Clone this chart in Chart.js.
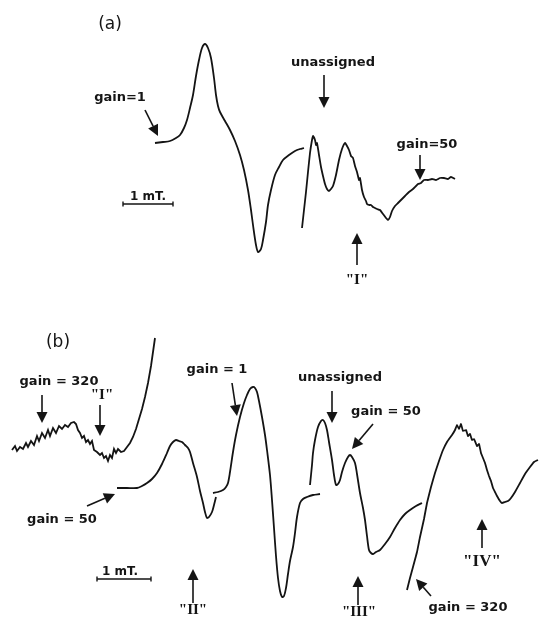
<!DOCTYPE html>
<html>
<head>
<meta charset="utf-8">
<script src="https://cdn.jsdelivr.net/npm/chart.js@4.4.0/dist/chart.umd.min.js"></script>
<style>
html, body { margin: 0; padding: 0; background: #fff; }
#wrap { width: 540px; height: 618px; }
</style>
</head>
<body>
<div id="wrap"><canvas id="epr" width="540" height="618"></canvas></div>
<script>
// Recorder traces: x = field position, y = pen deflection (downwards)
// (a) gain = 1
const traceA1 = [
    [155,143],[163,142],[170,141],[176,138],[180,135],[184,128],[187,120],[190,108],[193,95],
    [196,76],[199,60],[202,48],[205,44],[208,48],[211,58],[214,78],[216,95],[218,106],[220,112],
    [225,121],[230,130],[235,141],[240,155],[244,170],[248,190],[251,210],[253,225],[256,245],
    [258,252],[261,249],[263,240],[266,222],[268,205],[271,190],[275,175],[279,167],[283,160],
    [289,155],[295,151],[300,149],[304,148]
];
// (a) gain = 50
const traceA50 = [
    [302,228],[304,210],[306,192],[308,172],[310,153],[312,140],[313,136],[315,140],[316,145],
    [317,143],[319,155],[321,167],[323,176],[325,184],[327,189],[329,191],[331,189],[333,186],
    [336,175],[339,160],[342,149],[345,143],[347,146],[349,150],[351,156],[353,158],[355,166],
    [357,172],[359,180],[360,178],[362,190],[364,197],[366,201],[367,204],[369,205],[371,205],
    [373,207],[375,208],[377,209],[380,210],[383,214],[386,218],[388,220],[390,217],[392,211],
    [395,206],[398,203],[402,199],[405,196],[409,192],[413,189],[416,186],[418,184],[421,183],
    [424,180],[428,180],[432,179],[436,180],[440,178],[444,178],[448,179],[451,177],[455,179]
];
// (b) gain = 320, low field
const traceB320a = [
    [12,450],[15,446],[17,451],[20,447],[23,449],[26,443],[28,447],[31,441],[34,445],[37,436],
    [39,441],[42,433],[45,438],[48,430],[50,436],[53,428],[56,433],[59,426],[62,429],[65,425],
    [68,427],[71,423],[74,422],[76,424],[78,430],[80,433],[82,438],[84,436],[86,442],[88,440],
    [90,444],[92,441],[94,450],[97,452],[100,455],[102,453],[104,458],[106,456],[108,461],
    [110,455],[112,458],[114,449],[116,453],[118,449],[121,452],[124,451],[127,447],[130,443],
    [133,437],[136,429],[139,419],[142,409],[145,397],[148,383],[151,366],[153,352],[155,338]
];
// (b) gain = 50, low field
const traceB50a = [
    [117,488],[127,488],[137,488],[142,486],[147,483],[152,479],[157,473],[162,464],[167,453],
    [170,446],[173,442],[176,440],[179,441],[182,442],[185,445],[188,448],[190,452],[193,463],
    [197,477],[200,491],[203,503],[205,512],[207,518],[209,517],[212,512],[214,505],[216,497]
];
// (b) gain = 1
const traceB1 = [
    [213,493],[218,492],[223,490],[226,487],[228,483],[230,472],[233,452],[236,435],[240,417],
    [244,403],[247,395],[250,389],[253,387],[255,388],[257,392],[259,401],[262,417],[265,435],
    [267,450],[270,475],[272,500],[274,528],[276,556],[278,578],[280,591],[282,597],[284,596],
    [286,588],[288,574],[290,561],[293,547],[295,533],[297,517],[300,503],[303,499],
    [307,497],[313,495],[320,494]
];
// (b) gain = 50, high field
const traceB50b = [
    [310,485],[312,465],[313,453],[315,440],[318,427],[321,421],[323,420],[325,423],[327,430],
    [329,442],[332,460],[334,475],[336,485],[338,484],[340,480],[342,472],[345,463],[348,457],
    [350,455],[352,457],[355,463],[357,474],[360,493],[363,508],[365,520],[367,536],[369,550],
    [371,553],[373,554],[376,552],[380,550],[385,544],[390,537],[395,528],[400,520],[405,514],
    [410,510],[416,506],[422,503]
];
// (b) gain = 320, high field
const traceB320b = [
    [407,590],[410,578],[413,567],[417,552],[420,537],[424,519],[427,503],[431,487],[435,473],
    [439,461],[443,450],[447,442],[452,435],[455,430],[457,425],[459,429],[461,424],[463,431],
    [466,430],[468,436],[470,434],[472,440],[474,439],[477,446],[479,444],[481,453],[483,458],
    [485,463],[487,470],[489,476],[491,481],[493,488],[495,492],[497,496],[500,501],[502,503],
    [505,502],[508,501],[511,498],[515,492],[520,483],[525,474],[530,467],[534,462],[538,460]
];

// Anotaciones (texto, flechas, barras de escala)
const SANS = '"DejaVu Sans", sans-serif';
const SERIF = '"Liberation Serif", serif';
const labels = [
    { text: '(a)', x: 110, y: 25, font: '17px ' + SANS },
    { text: 'gain=1', x: 120, y: 98, font: '600 13px ' + SANS },
    { text: 'unassigned', x: 333, y: 63, font: '600 13px ' + SANS },
    { text: 'gain=50', x: 427, y: 145, font: '600 13px ' + SANS },
    { text: '"I"', x: 357, y: 280, font: 'bold 15px ' + SERIF },
    { text: '1 mT.', x: 148, y: 197, font: '600 12px ' + SANS },
    { text: '(b)', x: 58, y: 343, font: '17px ' + SANS },
    { text: 'gain = 320', x: 59, y: 382, font: '600 13px ' + SANS },
    { text: '"I"', x: 102, y: 395, font: 'bold 15px ' + SERIF },
    { text: 'gain = 1', x: 217, y: 370, font: '600 13px ' + SANS },
    { text: 'unassigned', x: 340, y: 378, font: '600 13px ' + SANS },
    { text: 'gain = 50', x: 386, y: 412, font: '600 13px ' + SANS },
    { text: 'gain = 50', x: 62, y: 520, font: '600 13px ' + SANS },
    { text: '1 mT.', x: 120, y: 572, font: '600 12px ' + SANS },
    { text: '"II"', x: 193, y: 610, font: 'bold 15px ' + SERIF },
    { text: '"III"', x: 359, y: 612, font: 'bold 15px ' + SERIF },
    { text: '"IV"', x: 482, y: 562, font: 'bold 17px ' + SERIF },
    { text: 'gain = 320', x: 468, y: 608, font: '600 13px ' + SANS }
];
// flechas: desde (x1,y1) hasta la punta (x2,y2)
const arrows = [
    [145,110,158,136], [324,75,324,108], [420,155,420,180], [357,265,357,233],
    [42,395,42,423], [100,405,100,436], [232,383,237,416], [332,391,332,423],
    [373,424,352,449], [87,506,115,494], [193,603,193,569], [358,605,358,576],
    [482,548,482,519], [431,596,416,579]
];
// barras de escala de 1 mT: [x inicio, x fin, y]
const scaleBars = [[123,173,204], [97,151,579]];

const annotationPlugin = {
    id: 'annotations',
    afterDatasetsDraw(chart) {
        const ctx = chart.ctx;
        const sx = v => chart.scales.x.getPixelForValue(v);
        const sy = v => chart.scales.y.getPixelForValue(v);
        ctx.save();
        ctx.fillStyle = '#151515';
        ctx.strokeStyle = '#151515';
        ctx.textAlign = 'center';
        ctx.textBaseline = 'middle';
        labels.forEach(l => {
            ctx.font = l.font;
            ctx.fillText(l.text, sx(l.x), sy(l.y));
        });
        arrows.forEach(a => {
            const x1 = sx(a[0]), y1 = sy(a[1]), x2 = sx(a[2]), y2 = sy(a[3]);
            const ang = Math.atan2(y2 - y1, x2 - x1);
            const len = 11, half = 5.5;
            const bx = x2 - len * Math.cos(ang), by = y2 - len * Math.sin(ang);
            ctx.lineWidth = 1.6;
            ctx.beginPath();
            ctx.moveTo(x1, y1);
            ctx.lineTo(bx, by);
            ctx.stroke();
            ctx.beginPath();
            ctx.moveTo(x2, y2);
            ctx.lineTo(bx + half * Math.sin(ang), by - half * Math.cos(ang));
            ctx.lineTo(bx - half * Math.sin(ang), by + half * Math.cos(ang));
            ctx.closePath();
            ctx.fill();
        });
        scaleBars.forEach(b => {
            const x1 = sx(b[0]), x2 = sx(b[1]), y = sy(b[2]);
            ctx.lineWidth = 1.4;
            ctx.beginPath();
            ctx.moveTo(x1, y); ctx.lineTo(x2, y);
            ctx.moveTo(x1, y - 2.5); ctx.lineTo(x1, y + 2.5);
            ctx.moveTo(x2, y - 2.5); ctx.lineTo(x2, y + 2.5);
            ctx.stroke();
        });
        ctx.restore();
    }
};

function makeTrace(points, tension) {
    return {
        data: points.map(p => ({ x: p[0], y: p[1] })),
        showLine: true,
        borderColor: '#141414',
        borderWidth: 1.8,
        pointRadius: 0,
        tension: tension,
        fill: false
    };
}

new Chart(document.getElementById('epr'), {
    type: 'scatter',
    data: {
        datasets: [
            makeTrace(traceA1, 0.3),
            makeTrace(traceA50, 0.15),
            makeTrace(traceB320a, 0),
            makeTrace(traceB50a, 0.3),
            makeTrace(traceB1, 0.3),
            makeTrace(traceB50b, 0.3),
            makeTrace(traceB320b, 0.1)
        ]
    },
    options: {
        responsive: false,
        animation: false,
        layout: { padding: 0 },
        plugins: { legend: { display: false }, tooltip: { enabled: false } },
        scales: {
            x: { type: 'linear', min: 0, max: 540, display: false },
            y: { type: 'linear', min: 0, max: 618, reverse: true, display: false }
        }
    },
    plugins: [annotationPlugin]
});
</script>
</body>
</html>
